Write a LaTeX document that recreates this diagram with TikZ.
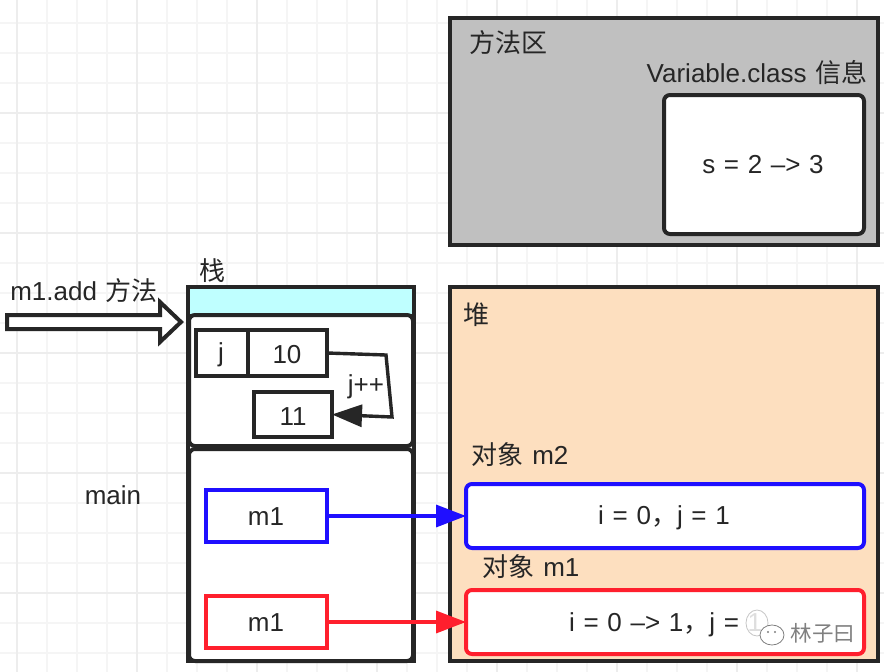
\documentclass[tikz,border=0pt]{standalone}
\usepackage{fontspec}
\setmainfont[WordSpace=1.2]{Liberation Sans}
\newfontfamily\cjk{Noto Sans CJK SC}
\usetikzlibrary{arrows.meta}
\definecolor{ink}{HTML}{262626}
\definecolor{gridc}{HTML}{EDEDED}
\definecolor{gridd}{HTML}{F5F5F5}
\definecolor{greyfill}{HTML}{C0C0C0}
\definecolor{cyanfill}{HTML}{BFFFFF}
\definecolor{peach}{HTML}{FDDFBF}
\definecolor{blueb}{HTML}{1F0FFF}
\definecolor{redb}{HTML}{FF1F2D}
\tikzset{
  x=1pt,y=-1pt,
  lbl/.style={inner sep=0pt,text=ink,font=\fontsize{26}{26}\selectfont},
  cjklbl/.style={lbl,font=\fontsize{26}{26}\selectfont\cjk},
  box/.style={draw=ink,line width=4pt,inner sep=0pt,outer sep=0pt,anchor=north west},
  rbox/.style={box,rounded corners=6pt,fill=white},
  conn/.style={line width=3.4pt,-{Triangle[length=30pt,width=22pt]}},
}
\newcommand{\boxat}[6]{\node[#1,minimum width=#4-#2 pt,minimum height=#5-#3 pt] (#6) at (#2,#3) {};}
\begin{document}
\begin{tikzpicture}
\useasboundingbox[fill=white] (0,0) rectangle (884,672);
\begin{scope}
\clip (0,0) rectangle (884,672);
\foreach \g in {47,77,107,167,197,227,287,317,347,407,437,467,527,557,587,647,677,707,767,797,827}
  \draw[gridd,line width=1.6pt] (\g,0) -- (\g,672);
\foreach \g in {23,53,83,143,173,203,263,293,323,383,413,443,503,533,563,623,653}
  \draw[gridd,line width=1.6pt] (0,\g) -- (884,\g);
\foreach \g in {17,137,257,377,497,617,737,857}
  \draw[gridc,line width=1.8pt] (\g,0) -- (\g,672);
\foreach \g in {113,233,353,473,593}
  \draw[gridc,line width=1.8pt] (0,\g) -- (884,\g);
\end{scope}

% method area
\boxat{box,fill=greyfill}{450}{18}{878}{245}{method}
\boxat{rbox}{664}{95}{864}{234}{klass}
\node[cjklbl] (methodl) at (508,43) {方法区};
\node[lbl] (klassl) at (757,73) {Variable.class {\cjk 信息}};
\node[lbl] (s) at (763,165) {s = 2 –> 3};

% stack
\boxat{box,fill=white}{188}{287}{414}{661}{stack}
\boxat{box,fill=cyanfill}{188}{287}{414}{316}{stackhead}
\boxat{rbox}{189}{315}{413}{446}{frameA}
\boxat{rbox}{189}{449}{413}{661}{frameB}
\node[cjklbl] (stackl) at (212,271) {栈};

% m1.add arrow
\node[lbl] (addl) at (84,291) {m1.add {\cjk 方法}};
\draw[ink,line width=4pt,fill=white,line join=miter]
  (7,315) -- (160,315) -- (160,302) -- (181,322) -- (160,342) -- (160,329) -- (7,329) -- cycle;

% frame A
\boxat{box,fill=white}{196}{330}{248}{376}{jbox}
\boxat{box,fill=white}{248}{330}{327}{376}{tenbox}
\boxat{box,fill=white}{254}{392}{332}{437}{elevenbox}
\node[lbl] at (221,355) {j};
\node[lbl] at (287,355) {10};
\node[lbl] at (293,417) {11};
\coordinate (c1) at (386,355);
\coordinate (c2) at (392,417);
\draw[ink,conn,line join=miter] (tenbox.east) -- (c1) -- (c2) -- (elevenbox.east);
\node[lbl] (jpp) at (366,387) {j++};

% frame B
\node[lbl] (mainl) at (113,495) {main};
\boxat{box,draw=blueb,fill=white}{206}{490}{327}{542}{mblue}
\boxat{box,draw=redb,fill=white}{206}{596}{327}{648}{mred}
\node[lbl] at (266,517) {m1};
\node[lbl] at (266,623) {m1};

% heap
\boxat{box,fill=peach}{450}{287}{878}{661}{heap}
\node[cjklbl] (heapl) at (476,315) {堆};
\node[lbl] (m2l) at (520,455) {{\cjk 对象} m2};
\boxat{rbox,draw=blueb}{466}{484}{864}{548}{obj2}
\node[lbl] (obj2t) at (664,518) {i = 0{\cjk ，}j = 1};
\node[lbl] (m1l) at (531,567) {{\cjk 对象} m1};
\boxat{rbox,draw=redb}{466}{590}{864}{654}{obj1}
\node[lbl,anchor=west] (obj1t) at (569,625) {i = 0 –> 1{\cjk ，}j = 1};

\draw[blueb,conn] (mblue.east) -- (obj2.west);
\draw[redb,conn] (mred.east) -- (obj1.west);

% watermark
\draw[gray!45,line width=.8pt,fill=white,fill opacity=.85] (757,623) circle[x radius=11,y radius=13];
\draw[gray,line width=.8pt,fill=white] (772,635) circle[x radius=12,y radius=10];
\fill[gray] (768,632) circle (1.1) (775,632) circle (1.1);
\node[inner sep=0pt,text=gray,font=\fontsize{21.5}{21.5}\selectfont\cjk] (wm) at (823,633) {林子曰};
\end{tikzpicture}
\end{document}
